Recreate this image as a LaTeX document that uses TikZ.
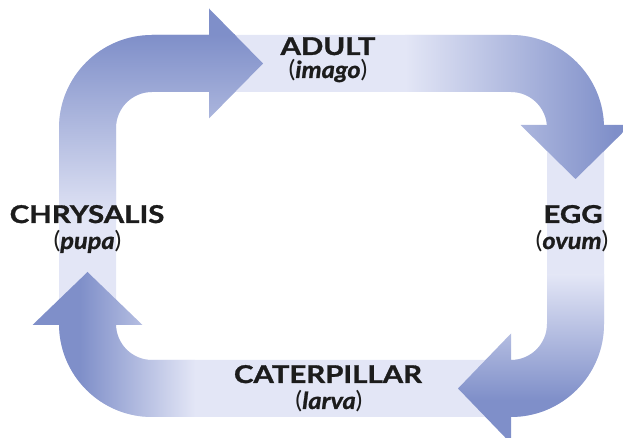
\documentclass[tikz,border=0pt]{standalone}
\usepackage{fontspec}
\setmainfont{Lato}
\definecolor{lightband}{RGB}{227,230,246}
\definecolor{darkband}{RGB}{127,143,201}
\definecolor{ink}{RGB}{28,28,28}
\newcommand{\latword}[1]{{\bfseries\itshape\addfontfeature{FakeBold=1}#1}}
\begin{document}
\begin{tikzpicture}[x=1pt,y=1pt,
  lab/.style={font=\fontsize{24.5}{26}\selectfont\bfseries\addfontfeature{FakeStretch=1.2,FakeBold=1.2}, text=ink, inner sep=0pt, anchor=base},
  sub/.style={font=\fontsize{23.5}{26}\selectfont\addfontfeature{FakeStretch=1.08}, text=ink, inner sep=0pt, anchor=base}]
\useasboundingbox (0,0) rectangle (623,438);
\begin{scope}
\clip (0,0) rectangle (623,438);
% base ring
\fill[lightband, even odd rule]
  (59,114) -- (59,310) arc[start angle=180,end angle=90,radius=93] -- (511,403)
  arc[start angle=90,end angle=0,radius=93] -- (604,114)
  arc[start angle=0,end angle=-90,radius=93] -- (152,21)
  arc[start angle=270,end angle=180,radius=93] -- cycle
  (116,114) -- (116,310) arc[start angle=180,end angle=90,radius=36] -- (511,346)
  arc[start angle=90,end angle=0,radius=36] -- (547,114)
  arc[start angle=0,end angle=-90,radius=36] -- (152,78)
  arc[start angle=270,end angle=180,radius=36] -- cycle;
% top-left arrow
\begin{scope}
\clip (59,215) -- (59,310) arc[start angle=180,end angle=90,radius=93] -- (209,403)
  -- (209,429.5) -- (263,374.5) -- (209,319.5) -- (209,346) -- (152,346)
  arc[start angle=90,end angle=180,radius=36] -- (116,215) -- cycle;
\shade[top color=darkband,bottom color=lightband] (40,215) rectangle (280,403);
\fill[darkband] (40,403) rectangle (280,440);
\end{scope}
% top-right arrow
\begin{scope}
\clip (405,403) -- (511,403) arc[start angle=90,end angle=0,radius=93] -- (604,313)
  -- (630.5,313) -- (575.5,259) -- (520.5,313) -- (547,313) -- (547,310)
  arc[start angle=0,end angle=90,radius=36] -- (405,346) -- cycle;
\shade[left color=lightband,right color=darkband] (405,250) rectangle (615,410);
\fill[darkband] (615,250) rectangle (640,410);
\end{scope}
% bottom-right arrow
\begin{scope}
\clip (604,170) -- (604,114) arc[start angle=0,end angle=-90,radius=93] -- (511,21)
  -- (511,-5.5) -- (458,49.5) -- (511,104.5) -- (511,78)
  arc[start angle=-90,end angle=0,radius=36] -- (547,170) -- cycle;
\shade[top color=lightband,bottom color=darkband] (440,38) rectangle (640,163);
\fill[darkband] (440,-10) rectangle (640,38);
\end{scope}
% bottom-left arrow
\begin{scope}
\clip (195,21) -- (152,21) arc[start angle=270,end angle=180,radius=93] -- (59,113)
  -- (32.5,113) -- (87.5,166) -- (142.5,113) -- (116,113) -- (116,114)
  arc[start angle=180,end angle=270,radius=36] -- (195,78) -- cycle;
\shade[left color=darkband,right color=lightband] (80,0) rectangle (195,200);
\fill[darkband] (20,0) rectangle (80,200);
\end{scope}
\end{scope}
% labels
\node[lab] (adult) at (328,383) {ADULT};
\node[sub] (imago) at (328,360) {(\latword{imago})};
\node[lab] (chrysalis) at (87,215) {CHRYSALIS};
\node[sub] (pupa) at (87.5,189) {(\latword{pupa})};
\node[lab] (egg) at (573,215) {EGG};
\node[sub] (ovum) at (572,189) {(\latword{ovum})};
\node[lab] (caterpillar) at (328,55) {CATERPILLAR};
\node[sub] (larva) at (329,29) {(\latword{larva})};
\end{tikzpicture}
\end{document}
